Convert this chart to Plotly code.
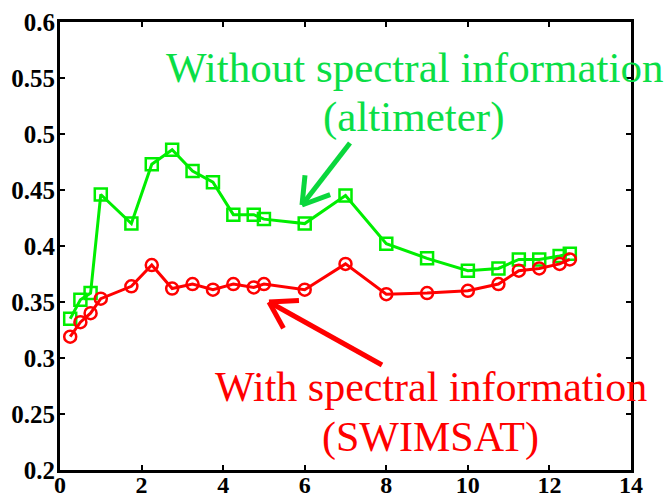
import plotly.graph_objects as go
import math

# ---- data ----
x_vals = [0.25, 0.5, 0.75, 1.0, 1.75, 2.25, 2.75, 3.25, 3.75, 4.25, 4.75, 5.0,
          6.0, 7.0, 8.0, 9.0, 10.0, 10.75, 11.25, 11.75, 12.25, 12.5]
without_spectral = [0.335, 0.352, 0.358, 0.446, 0.420, 0.473, 0.486, 0.467, 0.457,
                    0.428, 0.428, 0.424, 0.420, 0.445, 0.402, 0.389, 0.378, 0.380,
                    0.388, 0.388, 0.391, 0.393]
with_spectral = [0.319, 0.332, 0.340, 0.353, 0.364, 0.383, 0.362, 0.366, 0.361,
                 0.366, 0.363, 0.366, 0.361, 0.384, 0.357, 0.358, 0.360, 0.366,
                 0.378, 0.380, 0.384, 0.388]
y_tickvals = [0.2, 0.25, 0.3, 0.35, 0.4, 0.45, 0.5, 0.55, 0.6]
y_ticktext = ["0.2", "0.25", "0.3", "0.35", "0.4", "0.45", "0.5", "0.55", "0.6"]
x_tickvals = [0, 2, 4, 6, 8, 10, 12, 14]
x_ticktext = ["0", "2", "4", "6", "8", "10", "12", "14"]

W, H = 665, 497
ML, MR, MT, MB = 60, 34, 22, 27
XR = (0, 14)
YR = (0.2, 0.6)

GREEN_LINE = "rgb(0,238,0)"
GREEN_TXT = "rgb(10,222,70)"
RED = "rgb(255,0,0)"

fig = go.Figure()
fig.add_trace(go.Scatter(
    x=x_vals, y=without_spectral, mode="lines+markers",
    line=dict(color=GREEN_LINE, width=3),
    marker=dict(symbol="square-open", size=12, color=GREEN_LINE, line=dict(width=2.5, color=GREEN_LINE)),
    cliponaxis=False, showlegend=False, hoverinfo="skip"))
fig.add_trace(go.Scatter(
    x=x_vals, y=with_spectral, mode="lines+markers",
    line=dict(color=RED, width=3),
    marker=dict(symbol="circle-open", size=12, color=RED, line=dict(width=2.5, color=RED)),
    cliponaxis=False, showlegend=False, hoverinfo="skip"))

# pixel <-> data helpers for annotation geometry
pw = W - ML - MR
ph = H - MT - MB
def dx(px):
    return XR[0] + (px - ML) / pw * (XR[1] - XR[0])
def dy(py):
    return YR[1] - (py - MT) / ph * (YR[1] - YR[0])

def arrow(head, tail, color, barb_len=30, barb_ang=32):
    hx, hy = head
    tx, ty = tail
    ang = math.atan2(ty - hy, tx - hx)
    shapes = [dict(type="line", xref="x", yref="y", x0=dx(tx), y0=dy(ty), x1=dx(hx), y1=dy(hy),
                   line=dict(color=color, width=5))]
    for s in (-1, 1):
        a = ang + s * math.radians(barb_ang)
        bx = hx + barb_len * math.cos(a)
        by = hy + barb_len * math.sin(a)
        shapes.append(dict(type="line", xref="x", yref="y", x0=dx(hx), y0=dy(hy), x1=dx(bx), y1=dy(by),
                           line=dict(color=color, width=5)))
    return shapes

shapes = []
shapes += arrow((302, 205), (350, 143), "rgb(10,215,60)")
shapes += arrow((269, 302), (382, 365), RED)

font_txt = "Liberation Serif, Times New Roman, serif"
annots = [
    dict(text="Without spectral information", x=dx(414), y=dy(67), color=GREEN_TXT, size=43),
    dict(text="(altimeter)", x=dx(413), y=dy(117), color=GREEN_TXT, size=43),
    dict(text="With spectral information", x=dx(431), y=dy(387), color=RED, size=42),
    dict(text="(SWIMSAT)", x=dx(430), y=dy(437), color=RED, size=42),
]
annotations = [dict(text=a["text"], x=a["x"], y=a["y"], xref="x", yref="y", showarrow=False,
                    xanchor="center", yanchor="middle",
                    font=dict(family=font_txt, size=a["size"], color=a["color"])) for a in annots]

axis_common = dict(showline=True, linecolor="black", linewidth=3, mirror="allticks",
                   ticks="inside", ticklen=5, tickwidth=2, tickcolor="black",
                   showgrid=False, zeroline=False, automargin=False)
tick_family = "Liberation Serif, Times New Roman, serif"

fig.update_layout(
    template="none",
    width=W, height=H,
    margin=dict(l=ML, r=MR, t=MT, b=MB, autoexpand=False),
    paper_bgcolor="white", plot_bgcolor="white",
    hovermode=False,
    xaxis=dict(range=list(XR), tickvals=x_tickvals, ticktext=x_ticktext,
               ticklabelstandoff=-9,
               tickfont=dict(family=tick_family, size=24, color="black", weight="bold"),
               **axis_common),
    yaxis=dict(range=list(YR), tickvals=y_tickvals, ticktext=y_ticktext,
               ticklabelstandoff=-3,
               tickfont=dict(family=tick_family, size=25, color="black", weight="bold"),
               **axis_common),
    shapes=shapes, annotations=annotations,
)
fig.write_html("out.html", config={"displayModeBar": False, "staticPlot": True},
               post_script="document.body.style.margin='0';document.body.style.overflow='hidden';")
